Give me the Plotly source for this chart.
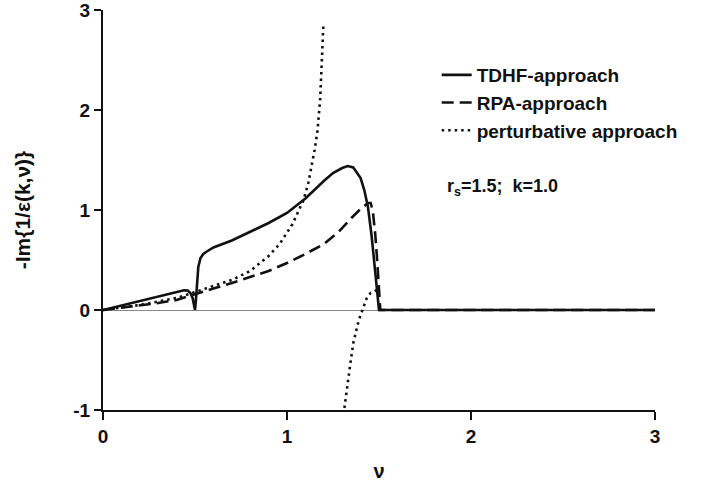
import plotly.graph_objects as go

# TDHF-approach (solid)
nu_tdhf = [0, 0.1, 0.2, 0.3, 0.4, 0.44, 0.46, 0.475, 0.487, 0.495, 0.5, 0.505, 0.51, 0.518, 0.53,
           0.545, 0.56, 0.6, 0.7, 0.8, 0.9, 1.0, 1.1, 1.2, 1.25, 1.3, 1.33, 1.36, 1.4, 1.42, 1.44,
           1.46, 1.48, 1.49, 1.5, 2.0, 2.5, 3.0]
im_tdhf = [0, 0.045, 0.09, 0.135, 0.18, 0.198, 0.195, 0.17, 0.12, 0.05, 0.0, 0.1, 0.25, 0.43, 0.52,
           0.56, 0.58, 0.625, 0.695, 0.78, 0.87, 0.97, 1.115, 1.29, 1.37, 1.42, 1.44, 1.425, 1.32, 1.2, 1.03,
           0.74, 0.4, 0.22, 0.0, 0.0, 0.0, 0.0]

# RPA-approach (dashed)
nu_rpa = [0, 0.1, 0.2, 0.3, 0.4, 0.5, 0.6, 0.7, 0.8, 0.9, 1.0, 1.1, 1.2, 1.28, 1.35, 1.4, 1.44,
          1.455, 1.467, 1.48, 1.49, 1.5, 1.507, 2.0, 3.0]
im_rpa = [0, 0.022, 0.045, 0.07, 0.1, 0.16, 0.215, 0.27, 0.33, 0.39, 0.47, 0.56, 0.66, 0.78, 0.92, 1.01, 1.07,
          1.07, 0.98, 0.75, 0.5, 0.2, 0.0, 0.0, 0.0]

# perturbative approach (dotted), upper branch
nu_pert_a = [0, 0.2, 0.4, 0.5, 0.6, 0.7, 0.8, 0.9, 0.96, 1.03, 1.09, 1.116, 1.15, 1.165, 1.18, 1.19, 1.198]
im_pert_a = [0, 0.05, 0.12, 0.18, 0.24, 0.3, 0.39, 0.54, 0.66, 0.86, 1.1, 1.27, 1.6, 1.78, 2.1, 2.45, 2.86]

# perturbative approach (dotted), lower branch
nu_pert_b = [1.312, 1.324, 1.342, 1.36, 1.388, 1.41, 1.433, 1.455, 1.478, 1.49]
im_pert_b = [-0.98, -0.8, -0.567, -0.333, -0.117, 0.0, 0.117, 0.173, 0.19, 0.2]

x_ticks = [0, 1, 2, 3]
y_ticks = [-1, 0, 1, 2, 3]

FONT = "Liberation Sans, Arial, sans-serif"

fig = go.Figure()
fig.add_trace(go.Scatter(x=nu_tdhf, y=im_tdhf, mode="lines", name="TDHF-approach",
                         line=dict(color="#111111", width=2.6)))
fig.add_trace(go.Scatter(x=nu_rpa, y=im_rpa, mode="lines", name="RPA-approach",
                         line=dict(color="#111111", width=2.6, dash="12px,6px")))
fig.add_trace(go.Scatter(x=nu_pert_a, y=im_pert_a, mode="lines", name="perturbative approach",
                         line=dict(color="#111111", width=2.6, dash="2.5px,4px")))
fig.add_trace(go.Scatter(x=nu_pert_b, y=im_pert_b, mode="lines", showlegend=False,
                         line=dict(color="#111111", width=2.6, dash="2.5px,4px")))

fig.update_layout(
    width=712, height=494,
    margin=dict(l=103, r=57, t=10, b=84, autoexpand=False),
    paper_bgcolor="white", plot_bgcolor="white",
    font=dict(family=FONT, size=19, color="#111111", weight="bold"),
    legend=dict(x=0.6045, y=0.885, xanchor="left", yanchor="top", bgcolor="rgba(0,0,0,0)",
                font=dict(family=FONT, size=19, color="#111111", weight="bold"),
                itemwidth=30, tracegroupgap=0),
    annotations=[dict(x=0.6196, y=0.555, xref="paper", yref="paper", xanchor="left", yanchor="middle",
                      text="r<sub>s</sub>=1.5;  k=1.0", showarrow=False,
                      font=dict(family=FONT, size=18, color="#111111", weight="bold"))],
)
fig.update_xaxes(range=[0, 3], tickvals=x_ticks, ticktext=[str(v) for v in x_ticks],
                 showline=True, linecolor="#111111", linewidth=2, ticks="outside", ticklen=8,
                 tickwidth=2, tickcolor="#111111", showgrid=False, zeroline=False, automargin=False,
                 ticklabeloverflow="allow",
                 tickfont=dict(family=FONT, size=19, weight="bold"),
                 title=dict(text="ν", standoff=18, font=dict(family=FONT, size=20, weight="bold")))
fig.update_yaxes(range=[-1, 3], tickvals=y_ticks, ticktext=[str(v) for v in y_ticks],
                 showline=True, linecolor="#111111", linewidth=2, ticks="outside", ticklen=7,
                 tickwidth=2, tickcolor="#111111", showgrid=False, automargin=False,
                 ticklabeloverflow="allow",
                 zeroline=True, zerolinecolor="#888888", zerolinewidth=1,
                 tickfont=dict(family=FONT, size=19, weight="bold"),
                 title=dict(text="-Im{1/ε(k,ν)}", standoff=37, font=dict(family=FONT, size=21, weight="bold")))

fig.write_html("out.html", post_script="document.body.style.margin='0';",
               config={"displayModeBar": False})
